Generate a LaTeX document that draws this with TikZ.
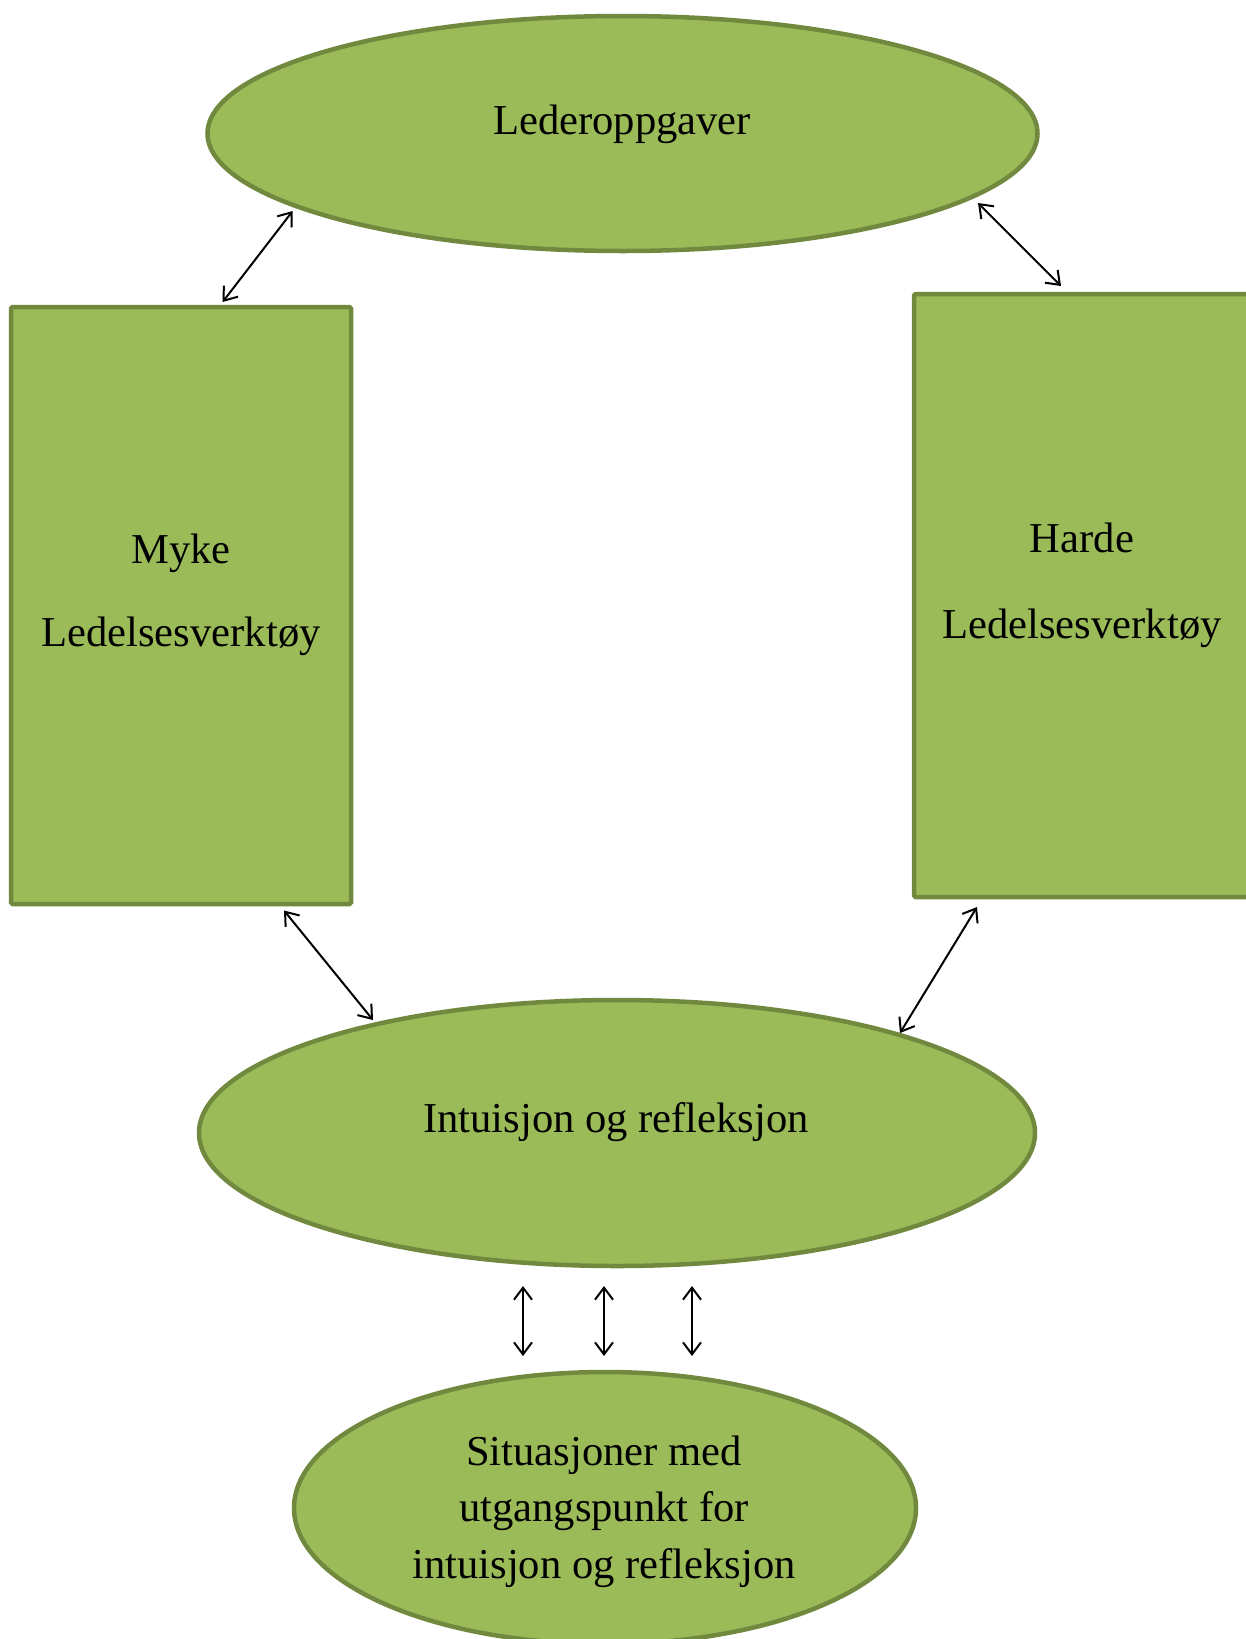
\documentclass[tikz,border=0pt]{standalone}
\usepackage{fontspec}
\setmainfont{Liberation Serif}
\usetikzlibrary{shapes.geometric,arrows.meta}
\definecolor{oliveFill}{HTML}{9BBB59}
\definecolor{oliveLine}{HTML}{71893F}
\tikzset{
  x=1pt,y=-1pt,
  ell/.style={ellipse,draw=oliveLine,fill=oliveFill,line width=4.5pt,inner sep=0pt},
  boxshape/.style={rectangle,draw=oliveLine,fill=oliveFill,line width=4.5pt,inner sep=0pt,rounded corners=1.5pt},
  lbl/.style={anchor=base,inner sep=0pt,font=\fontsize{42.6}{52}\selectfont},
  link/.style={line width=2pt,{Straight Barb[length=12pt,width=18pt,line width=2pt]}-{Straight Barb[length=12pt,width=18pt,line width=2pt]}}
}
\begin{document}
\begin{tikzpicture}
\useasboundingbox (0,0) rectangle (1246,1639);
% shapes
\node[ell,minimum width=830pt,minimum height=235pt] (top) at (622.5,133.5) {};
\node[boxshape,minimum width=340pt,minimum height=597pt] (left) at (181,605.5) {};
\node[boxshape,minimum width=336pt,minimum height=603pt] (right) at (1082,595.5) {};
\node[ell,minimum width=836pt,minimum height=266pt] (mid) at (617,1133) {};
\node[ell,minimum width=622pt,minimum height=272pt] (bot) at (605,1508) {};
% texts
\node[lbl] (t1) at (622,134) {Lederoppgaver};
\node[lbl] (t2) at (181,563) {Myke};
\node[lbl] (t3) at (181,646) {Ledelsesverktøy};
\node[lbl] (t4) at (1082,552) {Harde};
\node[lbl] (t5) at (1082,638) {Ledelsesverktøy};
\node[lbl] (t6) at (616,1132) {Intuisjon og refleksjon};
\node[lbl] (t7) at (604,1465) {Situasjoner med};
\node[lbl] (t8) at (604,1521) {utgangspunkt for};
\node[lbl] (t9) at (604,1578) {intuisjon og refleksjon};
% arrow endpoints
\coordinate (a1s) at (292.7,211);
\coordinate (a1e) at (222.6,302);
\coordinate (a2s) at (978,203);
\coordinate (a2e) at (1061,286);
\coordinate (a3s) at (284,910.5);
\coordinate (a3e) at (373,1020);
\coordinate (a4s) at (977,907);
\coordinate (a4e) at (900,1033);
\coordinate (v1s) at (523,1286);
\coordinate (v1e) at (523,1356);
\coordinate (v2s) at (604,1286);
\coordinate (v2e) at (604,1356);
\coordinate (v3s) at (692,1286);
\coordinate (v3e) at (692,1356);
\draw[link] (a1s) -- (a1e);
\draw[link] (a2s) -- (a2e);
\draw[link] (a3s) -- (a3e);
\draw[link] (a4s) -- (a4e);
\draw[link] (v1s) -- (v1e);
\draw[link] (v2s) -- (v2e);
\draw[link] (v3s) -- (v3e);
\end{tikzpicture}
\end{document}
